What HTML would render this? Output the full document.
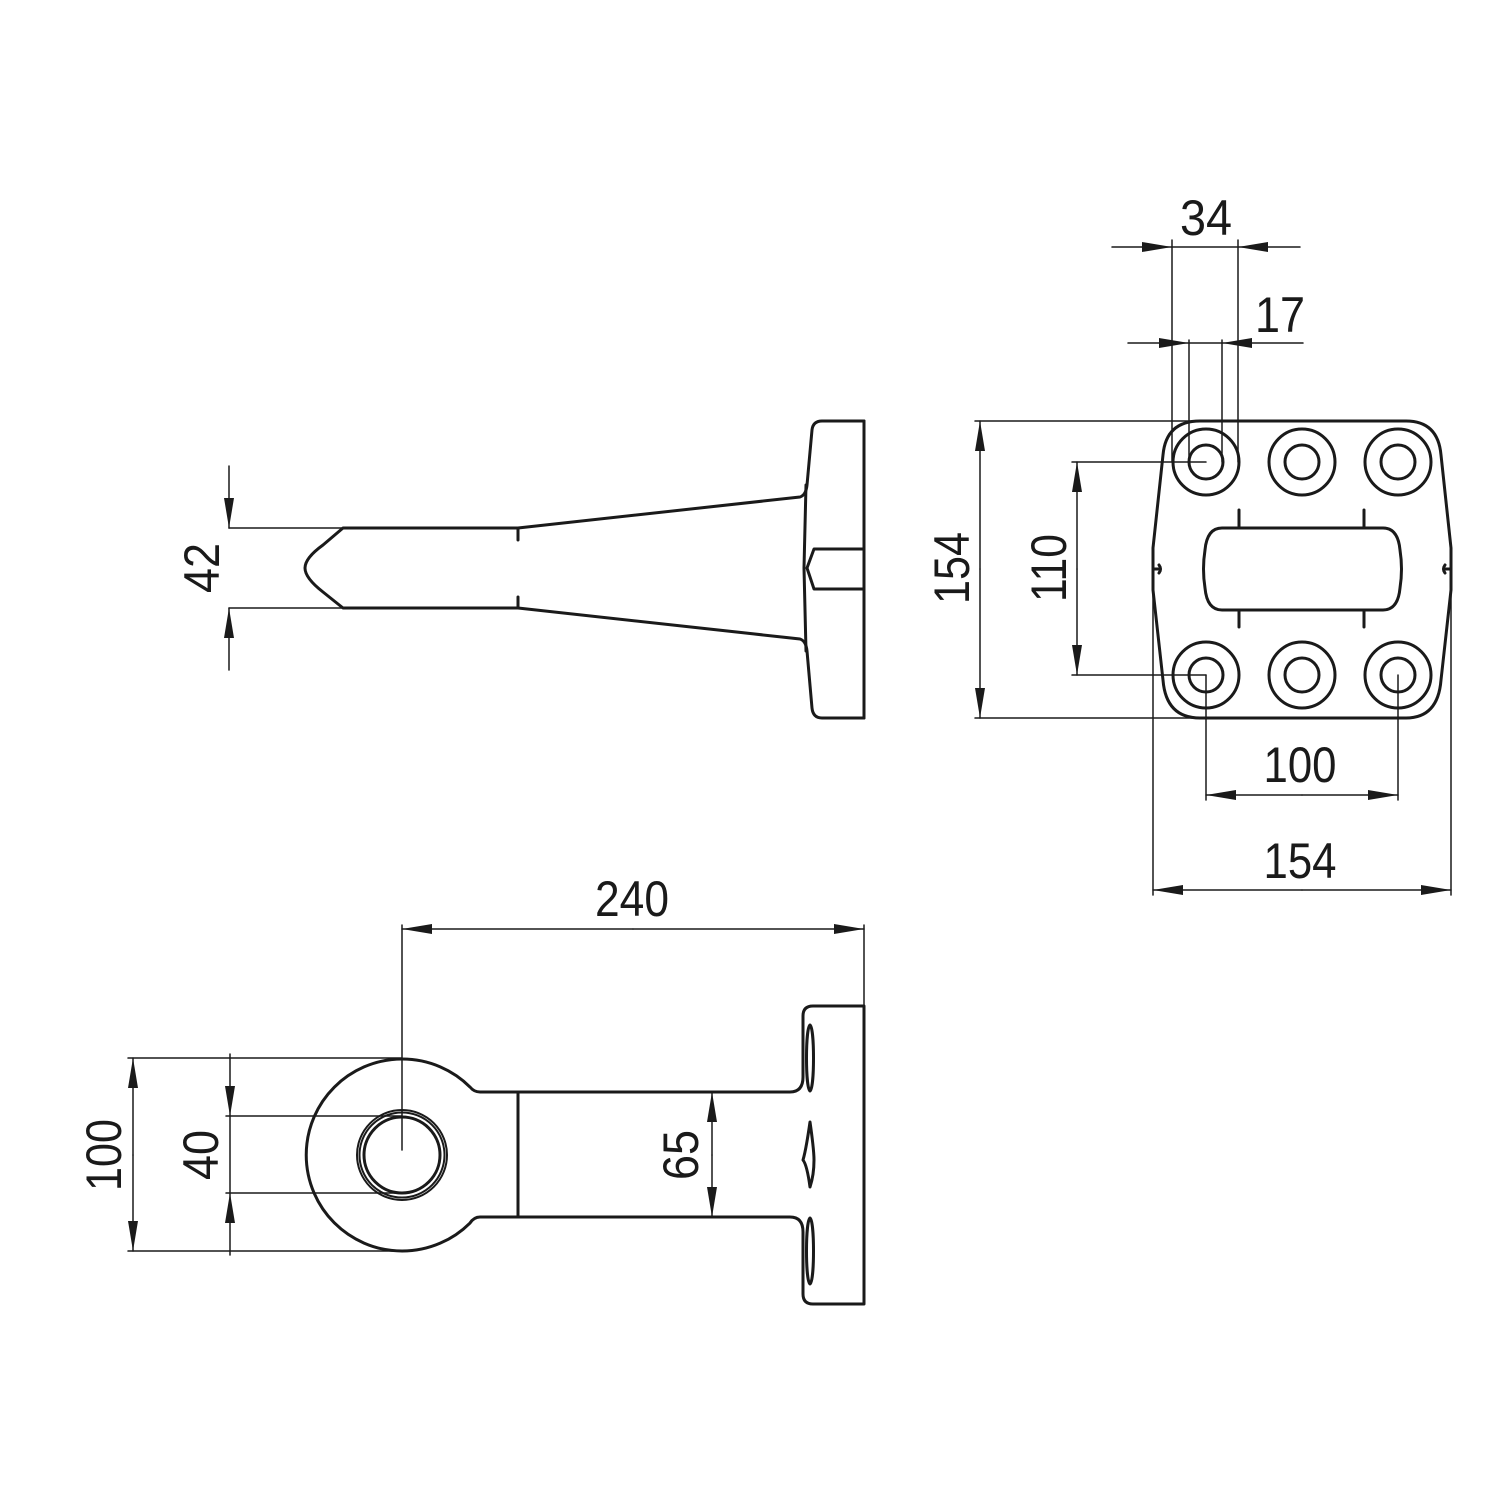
<!DOCTYPE html>
<html><head><meta charset="utf-8"><style>html,body{margin:0;padding:0;background:#fff}svg{display:block}</style></head>
<body>
<svg width="1500" height="1500" viewBox="0 0 1500 1500" xmlns="http://www.w3.org/2000/svg">
<defs>
<marker id="a" viewBox="0 0 30 10" refX="30" refY="5" markerWidth="30" markerHeight="10" markerUnits="userSpaceOnUse" orient="auto"><path d="M0,0 L30,5 L0,10 Z" fill="#1a1a1a"/></marker>
</defs>
<g fill="none" stroke="#1a1a1a" stroke-linecap="round" stroke-linejoin="round">
<g stroke-width="3">
<path d="M343,528 L518,528 L800,497 Q806,495 807,485 L812,430 Q813,421 822,421 L864,421 L864,718 L822,718 Q813,718 812,708 L807,651 Q806,641 800,639 L518,608 L343,608 L323,592 Q305,578 305,568 Q305,558 323,545 Z"/>
<line x1="864" y1="421" x2="864" y2="718"/>
<path d="M864,549 L814,549 L807,568 L814,589 L864,589"/>
<path d="M806,485 L804,568 L806,651"/>
<line x1="518" y1="528" x2="518" y2="540"/>
<line x1="518" y1="597" x2="518" y2="608"/>
</g>
<g stroke-width="1.5">
<line x1="229" y1="528" x2="343" y2="528"/>
<line x1="229" y1="608" x2="343" y2="608"/>
<line x1="229" y1="466" x2="229" y2="528" marker-end="url(#a)"/>
<line x1="229" y1="670" x2="229" y2="608" marker-end="url(#a)"/>
</g>
<g stroke-width="3">
<path d="M1200,421 L1406,421 Q1438,421 1441,455 L1451,548 L1451,590 L1441,680 Q1438,718 1406,718 L1200,718 Q1166,718 1163,680 L1153,590 L1153,548 L1163,455 Q1166,421 1200,421 Z"/>
<circle cx="1206" cy="462" r="33"/><circle cx="1206" cy="462" r="17"/>
<circle cx="1302" cy="462" r="33"/><circle cx="1302" cy="462" r="17"/>
<circle cx="1398" cy="462" r="33"/><circle cx="1398" cy="462" r="17"/>
<circle cx="1206" cy="675" r="33"/><circle cx="1206" cy="675" r="17"/>
<circle cx="1302" cy="675" r="33"/><circle cx="1302" cy="675" r="17"/>
<circle cx="1398" cy="675" r="33"/><circle cx="1398" cy="675" r="17"/>
<path d="M1222,528 L1383,528 Q1398,528 1400,550 Q1403,569 1400,588 Q1398,610 1383,610 L1222,610 Q1207,610 1205,588 Q1202,569 1205,550 Q1207,528 1222,528 Z"/>
<line x1="1239" y1="510" x2="1239" y2="528"/><line x1="1364" y1="510" x2="1364" y2="528"/>
<line x1="1239" y1="610" x2="1239" y2="627"/><line x1="1364" y1="610" x2="1364" y2="627"/>
<path d="M1154,569 L1160,569 M1159,565 Q1162,569 1159,573"/>
<path d="M1450,569 L1444,569 M1445,565 Q1442,569 1445,573"/>
</g>
<g stroke-width="1.5">
<line x1="1172" y1="240" x2="1172" y2="462"/>
<line x1="1238" y1="240" x2="1238" y2="462"/>
<line x1="1112" y1="247" x2="1172" y2="247" marker-end="url(#a)"/>
<line x1="1300" y1="247" x2="1238" y2="247" marker-end="url(#a)"/>
<line x1="1172" y1="247" x2="1238" y2="247"/>
<line x1="1189" y1="340" x2="1189" y2="462"/>
<line x1="1222" y1="340" x2="1222" y2="462"/>
<line x1="1128" y1="343" x2="1189" y2="343" marker-end="url(#a)"/>
<line x1="1303" y1="343" x2="1222" y2="343" marker-end="url(#a)"/>
<line x1="1189" y1="343" x2="1222" y2="343"/>
<line x1="975" y1="421" x2="1200" y2="421"/>
<line x1="975" y1="718" x2="1200" y2="718"/>
<line x1="980" y1="569" x2="980" y2="421" marker-end="url(#a)"/>
<line x1="980" y1="569" x2="980" y2="718" marker-end="url(#a)"/>
<line x1="1072" y1="462" x2="1206" y2="462"/>
<line x1="1072" y1="675" x2="1206" y2="675"/>
<line x1="1077" y1="569" x2="1077" y2="462" marker-end="url(#a)"/>
<line x1="1077" y1="569" x2="1077" y2="675" marker-end="url(#a)"/>
<line x1="1206" y1="675" x2="1206" y2="800"/>
<line x1="1398" y1="675" x2="1398" y2="800"/>
<line x1="1302" y1="795" x2="1206" y2="795" marker-end="url(#a)"/>
<line x1="1302" y1="795" x2="1398" y2="795" marker-end="url(#a)"/>
<line x1="1153" y1="590" x2="1153" y2="895"/>
<line x1="1451" y1="590" x2="1451" y2="895"/>
<line x1="1302" y1="890" x2="1153" y2="890" marker-end="url(#a)"/>
<line x1="1302" y1="890" x2="1451" y2="890" marker-end="url(#a)"/>
</g>
<g stroke-width="3">
<path d="M480,1092 L790,1092 Q803,1092 803,1077 L803,1016 Q803,1006 813,1006 L864,1006 L864,1304 L813,1304 Q803,1304 803,1294 L803,1232 Q803,1217 790,1217 L480,1217 Q474,1217 470,1223 A96,96 0 1 1 470,1087 Q474,1092 480,1092 Z"/>
<line x1="518" y1="1092" x2="518" y2="1217"/>
<circle cx="402" cy="1155" r="38"/>
<ellipse cx="810" cy="1058" rx="3.5" ry="33"/>
<path d="M810,1122 Q814,1150 814,1160 Q814,1175 810,1187 Q807,1165 803,1160 Q806,1150 810,1122 Z"/>
<ellipse cx="810" cy="1251" rx="3.5" ry="33"/>
</g>
<g stroke-width="2">
<circle cx="402" cy="1155" r="45"/>
<circle cx="402" cy="1155" r="42.5"/>
</g>
<g stroke-width="1.5">
<line x1="402" y1="925" x2="402" y2="1150"/>
<line x1="864" y1="925" x2="864" y2="1006"/>
<line x1="633" y1="929" x2="402" y2="929" marker-end="url(#a)"/>
<line x1="633" y1="929" x2="864" y2="929" marker-end="url(#a)"/>
<line x1="128" y1="1058" x2="402" y2="1058"/>
<line x1="128" y1="1251" x2="402" y2="1251"/>
<line x1="133" y1="1155" x2="133" y2="1058" marker-end="url(#a)"/>
<line x1="133" y1="1155" x2="133" y2="1251" marker-end="url(#a)"/>
<line x1="226" y1="1116" x2="402" y2="1116"/>
<line x1="226" y1="1193" x2="402" y2="1193"/>
<line x1="230" y1="1054" x2="230" y2="1116" marker-end="url(#a)"/>
<line x1="230" y1="1255" x2="230" y2="1193" marker-end="url(#a)"/>
<line x1="230" y1="1116" x2="230" y2="1193"/>
<line x1="712" y1="1155" x2="712" y2="1092" marker-end="url(#a)"/>
<line x1="712" y1="1155" x2="712" y2="1217" marker-end="url(#a)"/>
</g>
</g>
<g font-family="'Liberation Sans', sans-serif" font-size="50" fill="#1a1a1a" text-anchor="middle">
<text x="1206" y="235" textLength="52" lengthAdjust="spacingAndGlyphs">34</text>
<text x="1280" y="332" textLength="50" lengthAdjust="spacingAndGlyphs">17</text>
<text x="1300" y="782" textLength="73" lengthAdjust="spacingAndGlyphs">100</text>
<text x="1300" y="878" textLength="73" lengthAdjust="spacingAndGlyphs">154</text>
<text x="632" y="916" textLength="74" lengthAdjust="spacingAndGlyphs">240</text>
<text transform="translate(219,568) rotate(-90)" textLength="50" lengthAdjust="spacingAndGlyphs">42</text>
<text transform="translate(969,568) rotate(-90)" textLength="72" lengthAdjust="spacingAndGlyphs">154</text>
<text transform="translate(1066,568) rotate(-90)" textLength="68" lengthAdjust="spacingAndGlyphs">110</text>
<text transform="translate(121,1155) rotate(-90)" textLength="72" lengthAdjust="spacingAndGlyphs">100</text>
<text transform="translate(218,1155) rotate(-90)" textLength="50" lengthAdjust="spacingAndGlyphs">40</text>
<text transform="translate(698,1155) rotate(-90)" textLength="50" lengthAdjust="spacingAndGlyphs">65</text>
</g>
</svg>
</body></html>
